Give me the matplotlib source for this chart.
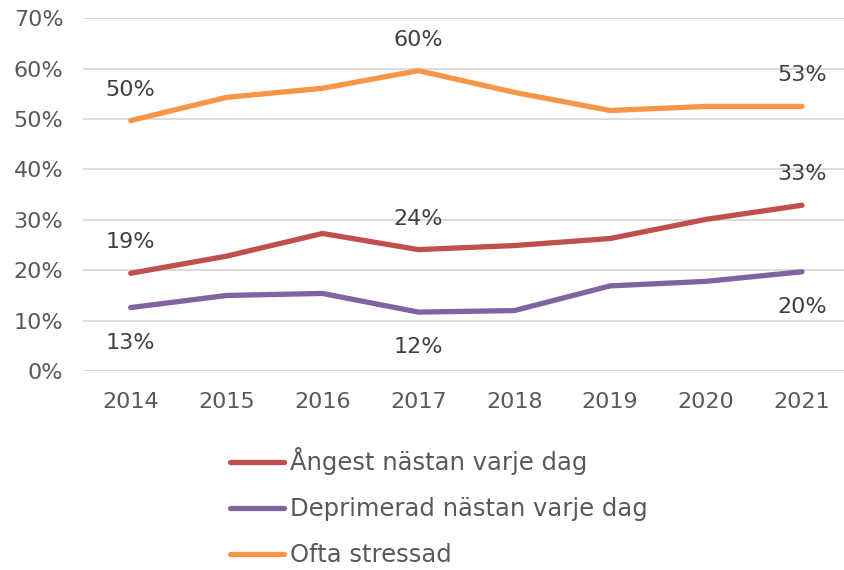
import matplotlib.pyplot as plt
import numpy as np

years = ['2014', '2015', '2016', '2017', '2018', '2019', '2020', '2021']
angest = [19.4, 22.8, 27.3, 24.1, 24.9, 26.3, 30.1, 32.9]
deprimerad = [12.6, 15.0, 15.4, 11.7, 12.0, 16.9, 17.8, 19.7]
stressad = [49.7, 54.3, 56.1, 59.6, 55.3, 51.7, 52.5, 52.5]

# which points carry a value label, and the label text
label_idx = [0, 3, 7]
angest_lbl = ['19%', '24%', '33%']
depr_lbl = ['13%', '12%', '20%']
stress_lbl = ['50%', '60%', '53%']

c_red = '#C0504D'
c_purple = '#8064A2'
c_orange = '#F79646'
txt = '#595959'
lbl = '#404040'

fig = plt.figure(figsize=(8.44, 5.70), dpi=100)
ax = fig.add_axes([0.098, 0.349, 0.909, 0.619])

x = np.arange(len(years))
l1, = ax.plot(x, angest, color=c_red, lw=3.8, solid_capstyle='round', zorder=3)
l2, = ax.plot(x, deprimerad, color=c_purple, lw=3.8, solid_capstyle='round', zorder=3)
l3, = ax.plot(x, stressad, color=c_orange, lw=3.8, solid_capstyle='round', zorder=3)

for i, t in zip(label_idx, stress_lbl):
    ax.annotate(t, (x[i], stressad[i]), xytext=(0, 31), textcoords='offset pixels',
                ha='center', va='center', fontsize=16, color=lbl)
for i, t in zip(label_idx, angest_lbl):
    ax.annotate(t, (x[i], angest[i]), xytext=(0, 31), textcoords='offset pixels',
                ha='center', va='center', fontsize=16, color=lbl)
for i, t in zip(label_idx, depr_lbl):
    ax.annotate(t, (x[i], deprimerad[i]), xytext=(0, -35), textcoords='offset pixels',
                ha='center', va='center', fontsize=16, color=lbl)

ax.set_xlim(-0.5, 7.5)
ax.set_ylim(0, 70)
ax.set_yticks(range(0, 71, 10))
ax.set_yticklabels([f'{v}%' for v in range(0, 71, 10)])
ax.set_xticks(x)
ax.set_xticklabels(years)
ax.tick_params(axis='both', length=0, labelsize=16, labelcolor=txt)
ax.tick_params(axis='y', pad=14)
ax.tick_params(axis='x', pad=15)
ax.grid(axis='y', color='#D9D9D9', lw=1.3)
ax.set_axisbelow(True)
for s in ax.spines.values():
    s.set_visible(False)

fig.legend([l1, l2, l3], ['Ångest nästan varje dag', 'Deprimerad nästan varje dag', 'Ofta stressad'],
           loc='upper left', bbox_to_anchor=(0.272, 0.215), frameon=False,
           fontsize=17.5, labelcolor=txt, handlelength=2.26, handletextpad=0.22,
           labelspacing=0.9, borderaxespad=0, borderpad=0)

fig.savefig('out.png', dpi=100)
